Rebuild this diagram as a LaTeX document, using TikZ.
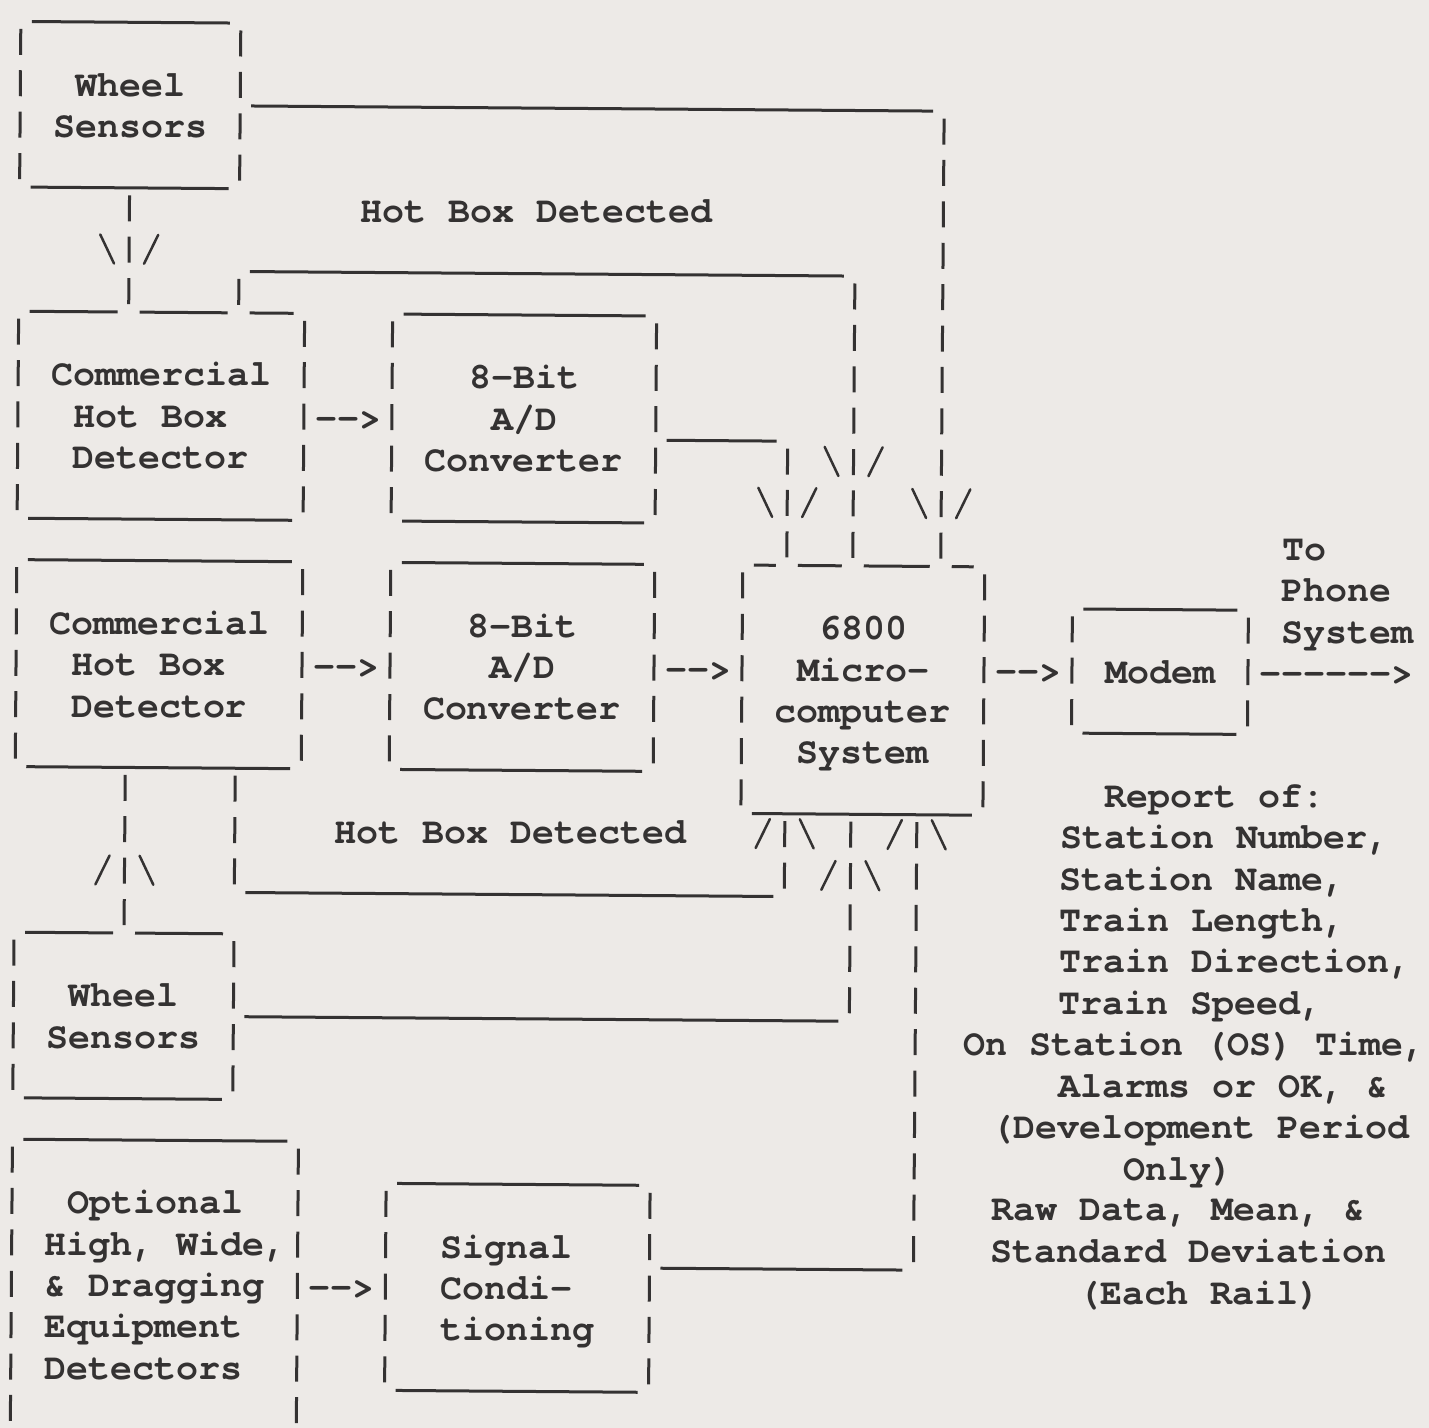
\documentclass[tikz,border=0pt]{standalone}
\usepackage{fontspec}
\newfontfamily\cour{texgyrecursor-bold.otf}
\definecolor{paper}{RGB}{237,234,231}
\definecolor{ink}{RGB}{52,50,50}
\tikzset{
  txt/.style={font=\cour\fontsize{18.33pt}{20pt}\selectfont, text=ink, inner sep=0pt, anchor=base west},
  bar/.style={draw=ink, line width=1.5pt, line cap=butt},
  slsh/.style={draw=ink, line width=1.25pt, line cap=round},
}
\newcommand\CX[1]{21+22*(#1)}
\newcommand\RY[1]{2.3+41.4*(#1)}
% text node: name, column, row, text
\newcommand\T[4]{\node[txt] (#1) at ({\CX{#2}-11},{-(\RY{#3})-10.5}) {#4};}
% vertical bar glyph at column, row
\newcommand\VB[2]{\draw[bar] ({\CX{#1}},{-(\RY{#2})+15}) -- ++(0,-26);}
\newcommand\VBS[3]{\foreach \rr in {#2,...,#3}{\VB{#1}{\rr}}}
% underscore run: row, first column, last column
\newcommand\US[3]{\draw[bar] ({\CX{#2}-11},{-(\RY{#1})-19}) -- ({\CX{#3}+11},{-(\RY{#1})-19});}
% backslash and slash glyphs
\newcommand\BS[2]{\draw[slsh] ({\CX{#1}-7},{-(\RY{#2})+17}) -- ({\CX{#1}+7},{-(\RY{#2})-12});}
\newcommand\FS[2]{\draw[slsh] ({\CX{#1}-7},{-(\RY{#2})-12}) -- ({\CX{#1}+7},{-(\RY{#2})+17});}
\begin{document}
\begin{tikzpicture}[x=0.5pt,y=0.5pt]
\useasboundingbox (0,0) rectangle (1429,-1428);
\fill[paper] (0,0) rectangle (1429,-1428);
\begin{scope}[rotate=-0.43]
% ---------- texts ----------
\T{wsa}{3}{2}{Wheel}
\T{wsb}{2}{3}{Sensors}
\T{hbdtop}{16}{5}{Hot Box Detected}
\T{chba}{2}{9}{Commercial}
\T{chbb}{3}{10}{Hot Box}
\T{chbc}{3}{11}{Detector}
\T{arra}{14}{10}{-{}->}
\T{adaa}{21}{9}{8-Bit}
\T{adab}{22}{10}{A/D}
\T{adac}{19}{11}{Converter}
\T{chbd}{2}{15}{Commercial}
\T{chbe}{3}{16}{Hot Box}
\T{chbf}{3}{17}{Detector}
\T{arrb}{14}{16}{-{}->}
\T{adba}{21}{15}{8-Bit}
\T{adbb}{22}{16}{A/D}
\T{adbc}{19}{17}{Converter}
\T{arrc}{30}{16}{-{}->}
\T{mca}{37}{15}{6800}
\T{mcb}{36}{16}{Micro-}
\T{mcc}{35}{17}{computer}
\T{mcd}{36}{18}{System}
\T{arrd}{45}{16}{-{}->}
\T{modem}{50}{16}{Modem}
\T{arre}{57}{16}{-{}-{}-{}-{}-{}->}
\T{toa}{58}{13}{To}
\T{tob}{58}{14}{Phone}
\T{toc}{58}{15}{System}
\T{hbdbot}{15}{20}{Hot Box Detected}
\T{wsc}{3}{24}{Wheel}
\T{wsd}{2}{25}{Sensors}
\T{opa}{3}{29}{Optional}
\T{opb}{2}{30}{High, Wide,}
\T{opc}{2}{31}{\& Dragging}
\T{opd}{2}{32}{Equipment}
\T{ope}{2}{33}{Detectors}
\T{arrf}{14}{31}{-{}->}
\T{sca}{20}{30}{Signal}
\T{scb}{20}{31}{Condi-}
\T{scc}{20}{32}{tioning}
\T{rpa}{50}{19}{Report of:}
\T{rpb}{48}{20}{Station Number,}
\T{rpc}{48}{21}{Station Name,}
\T{rpd}{48}{22}{Train Length,}
\T{rpe}{48}{23}{Train Direction,}
\T{rpf}{48}{24}{Train Speed,}
\node[txt, xshift=-3.5pt] (rpg) at ({\CX{44}-11},{-(\RY{25})-10.5}) {On Station (OS) Time,};
\T{rph}{48}{26}{Alarms or OK, \&}
\T{rpi}{45}{27}{(Development Period}
\T{rpj}{51}{28}{Only)}
\T{rpk}{45}{29}{Raw Data, Mean, \&}
\T{rpl}{45}{30}{Standard Deviation}
\T{rpm}{49}{31}{(Each Rail)}
% ---------- wheel sensors (top) ----------
\US{0}{1}{9} \VBS{0}{1}{4} \VBS{10}{1}{4} \US{4}{1}{9}
\US{2}{11}{41} \VBS{42}{3}{13} \BS{41}{12} \FS{43}{12}
\VB{5}{5} \BS{4}{6} \VB{5}{6} \FS{6}{6} \VB{5}{7}
% ---------- commercial hot box detector 1 ----------
\US{7}{1}{4} \US{7}{6}{9} \US{7}{11}{12}
\VBS{0}{8}{12} \VBS{13}{8}{12} \US{12}{1}{12}
\VB{10}{7} \US{6}{11}{37} \VBS{38}{7}{13} \BS{37}{11} \FS{39}{11}
% ---------- A/D 1 ----------
\US{7}{18}{28} \VBS{17}{8}{12} \VBS{29}{8}{12} \US{12}{18}{28}
\US{10}{30}{34} \VB{35}{11} \BS{34}{12} \VB{35}{12} \FS{36}{12} \VB{35}{13}
% ---------- commercial hot box detector 2 ----------
\US{13}{1}{12} \VBS{0}{14}{18} \VBS{13}{14}{18} \US{18}{1}{12}
% ---------- A/D 2 ----------
\US{13}{18}{28} \VBS{17}{14}{18} \VBS{29}{14}{18} \US{18}{18}{28}
% ---------- microcomputer ----------
\US{13}{34}{34} \US{13}{36}{37} \US{13}{39}{41} \US{13}{43}{43}
\VBS{33}{14}{19} \VBS{44}{14}{19} \US{19}{34}{43}
% ---------- modem ----------
\US{14}{49}{55} \VBS{48}{15}{17} \VBS{56}{15}{17} \US{17}{49}{55}
% ---------- inputs from below ----------
\FS{34}{20} \VB{35}{20} \BS{36}{20} \VB{38}{20} \FS{40}{20} \VB{41}{20} \BS{42}{20}
\VB{35}{21} \FS{37}{21} \VB{38}{21} \BS{39}{21} \VB{41}{21}
\VBS{10}{19}{21} \US{21}{11}{34}
\VBS{5}{19}{20} \FS{4}{21} \VB{5}{21} \BS{6}{21} \VB{5}{22}
% ---------- wheel sensors (bottom) ----------
\US{22}{1}{4} \US{22}{6}{9} \VBS{0}{23}{26} \VBS{10}{23}{26} \US{26}{1}{9}
\US{24}{11}{37} \VBS{38}{22}{24}
% ---------- optional detectors ----------
\US{27}{1}{12} \VBS{0}{28}{34} \VBS{13}{28}{34}
% ---------- signal conditioning ----------
\US{28}{18}{28} \VBS{17}{29}{33} \VBS{29}{29}{33} \US{33}{18}{28}
\US{30}{30}{40} \VBS{41}{22}{30}
\end{scope}
\end{tikzpicture}
\end{document}
